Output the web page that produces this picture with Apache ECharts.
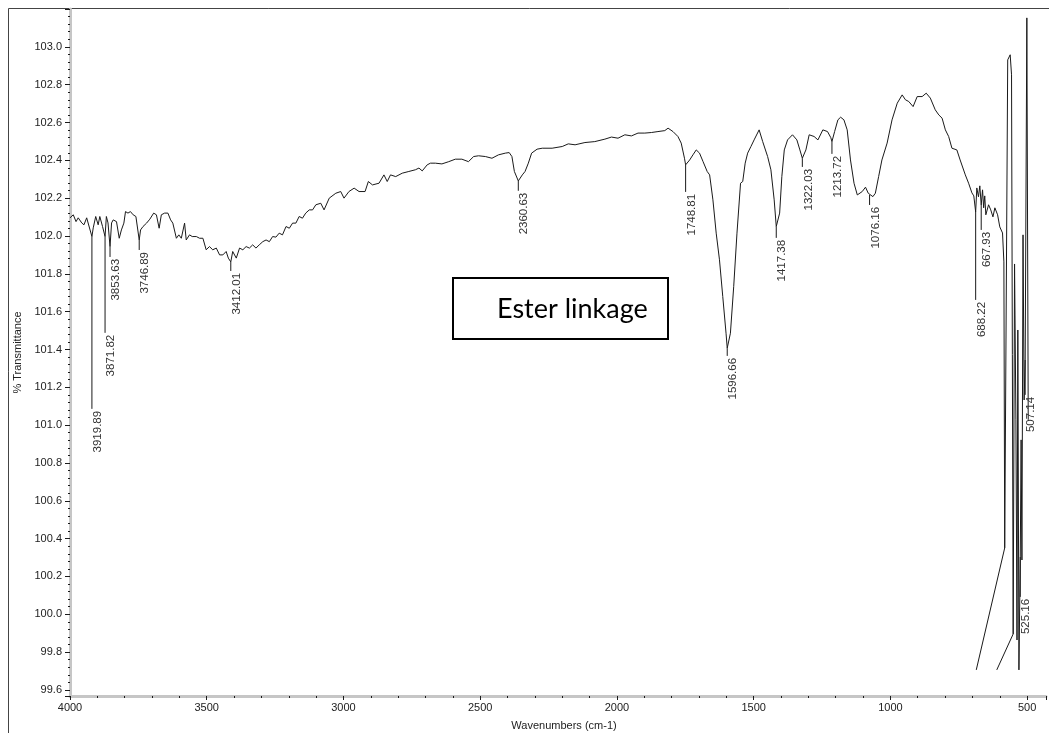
<!DOCTYPE html>
<html>
<head>
<meta charset="utf-8">
<title>FTIR spectrum</title>
<script src="https://cdn.jsdelivr.net/npm/echarts@6/dist/echarts.min.js"></script>
<style>
  html, body { margin: 0; padding: 0; background: #ffffff; }
  #chart { width: 1049px; height: 733px; }
</style>
</head>
<body>
<div id="chart"></div>
<script>
// IR spectrum: [wavenumber (cm-1), % transmittance]
const spectrum = [
  [4000,102.096],[3988,102.112],[3978,102.076],[3970,102.096],[3957,102.069],[3949,102.059],[3939,102.096],[3932,102.103],
  [3919.89,101.997],[3915,102.043],[3906,102.103],[3897,102.059],[3891,102.103],[3881,102.050],[3871.82,101.997],[3867,102.103],
  [3861,102.069],[3853.63,101.944],[3848,102.069],[3842,102.085],[3830,102.076],[3820,101.988],[3812,102.032],[3803,102.068],
  [3797,102.129],[3788,102.121],[3779,102.129],[3769,102.112],[3759,102.103],[3746.89,101.979],[3742,102.032],[3733,102.050],
  [3720,102.068],[3708,102.089],[3694,102.121],[3684,102.112],[3674,102.041],[3666,102.112],[3654,102.121],[3642,102.121],
  [3632,102.085],[3624,102.068],[3611,101.988],[3602,102.006],[3593,101.988],[3581,102.068],[3575,101.979],[3563,102.006],
  [3553,101.997],[3538,101.997],[3526,101.988],[3514,101.988],[3502,101.927],[3490,101.944],[3478,101.927],[3465,101.936],
  [3453,101.900],[3441,101.900],[3429,101.918],[3421,101.883],[3412.01,101.863],[3405,101.918],[3392,101.883],[3380,101.936],
  [3368,101.927],[3356,101.944],[3344,101.936],[3332,101.953],[3320,101.936],[3308,101.953],[3295,101.970],[3283,101.979],
  [3271,101.970],[3259,101.997],[3247,101.994],[3235,102.015],[3223,102.006],[3210,102.050],[3198,102.041],[3186,102.068],
  [3174,102.068],[3162,102.103],[3150,102.094],[3138,102.121],[3125,102.138],[3113,102.138],[3101,102.165],[3083,102.173],
  [3071,102.138],[3052,102.200],[3028,102.226],[3010,102.235],[2998,102.200],[2980,102.235],[2961,102.253],[2943,102.235],
  [2921,102.235],[2909,102.288],[2894,102.270],[2870,102.279],[2852,102.323],[2840,102.288],[2828,102.323],[2809,102.314],
  [2785,102.332],[2761,102.341],[2737,102.350],[2724,102.359],[2712,102.344],[2694,102.376],[2682,102.385],[2664,102.385],
  [2640,102.381],[2615,102.393],[2591,102.406],[2567,102.406],[2543,102.393],[2524,102.420],[2506,102.424],[2481,102.420],
  [2457,102.411],[2433,102.429],[2408,102.438],[2394,102.441],[2384,102.420],[2375,102.341],[2360.63,102.291],[2346,102.323],
  [2336,102.341],[2324,102.385],[2312,102.438],[2292,102.459],[2273,102.464],[2237,102.464],[2200,102.473],[2178,102.487],
  [2153,102.482],[2117,102.494],[2081,102.499],[2044,102.512],[2020,102.523],[1996,102.517],[1971,102.535],[1947,102.529],
  [1923,102.544],[1898,102.544],[1874,102.547],[1850,102.552],[1825,102.557],[1813,102.570],[1795,102.552],[1777,102.526],
  [1765,102.491],[1753,102.411],[1748.81,102.376],[1734,102.402],[1722,102.429],[1710,102.455],[1698,102.438],[1685,102.393],
  [1670,102.341],[1661,102.323],[1649,102.191],[1637,102.015],[1625,101.874],[1613,101.680],[1601,101.486],[1596.66,101.407],
  [1585,101.486],[1573,101.732],[1561,102.015],[1548,102.279],[1540,102.288],[1531,102.385],[1522,102.438],[1510,102.473],
  [1497,102.512],[1480,102.561],[1467,102.499],[1449,102.420],[1437,102.350],[1425,102.191],[1417.38,102.050],[1405,102.121],
  [1397,102.314],[1388,102.455],[1376,102.508],[1358,102.535],[1342,102.508],[1331,102.455],[1322.03,102.411],[1309,102.455],
  [1297,102.535],[1279,102.526],[1265,102.508],[1247,102.561],[1230,102.552],[1218,102.520],[1213.72,102.499],[1204,102.552],
  [1192,102.614],[1182,102.628],[1170,102.614],[1158,102.561],[1146,102.402],[1133,102.279],[1121,102.217],[1103,102.235],
  [1091,102.258],[1081,102.226],[1076.16,102.217],[1064,102.208],[1055,102.226],[1043,102.314],[1031,102.402],[1012,102.491],
  [994,102.614],[975,102.702],[957,102.746],[945,102.720],[933,102.711],[917,102.684],[902,102.737],[884,102.737],
  [869,102.755],[854,102.729],[836,102.667],[823,102.640],[811,102.623],[799,102.561],[787,102.526],[775,102.464],
  [757,102.455],[745,102.402],[726,102.323],[714,102.279],[702,102.228],[695,102.212],[688.22,102.127],[684,102.254],
  [678,102.207],[673,102.265],[667.93,102.164],[663,102.244],[659,102.149],[655,102.212],[651,102.112],[641,102.165],
  [633,102.138],[625,102.101],[618,102.149],[608,102.112],[600,102.048],[590,102.016],[585,101.863],[582,100.351],
  [571,102.931],[562,102.958],[557,102.852],[551,99.896],[546,101.852],[541,101.028],[537,99.864],[534,101.503],
  [530,99.706],[525.16,100.303],[522,100.922],[519,100.287],[515,102.006],[511,101.133],[507.14,101.345],[501,103.153],
  [499,103.143],[496,101.028]
];

// Off-scale segments in the saturated low-wavenumber region
const clippedSegmentA = [[582,100.351],[686,99.706]];
const clippedSegmentB = [[551,99.896],[611,99.706]];

// Peak picks: wavenumber, top of the marker line, bottom of the marker line
const peakWavenumbers = [3919.89,3871.82,3853.63,3746.89,3412.01,2360.63,1748.81,1596.66,1417.38,1322.03,1213.72,1076.16,688.22,667.93,525.16,507.14];
const peakTop =         [101.997,101.997,101.944,101.979,101.863,102.291,102.376,101.407,102.050,102.411,102.499,102.217,102.127,102.164,100.303,101.345];
const peakLineEnd =     [101.086,101.488,101.889,101.926,101.815,102.239,102.233,101.366,101.990,102.365,102.434,102.164,101.662,102.032,100.092,101.160];

const xAxisTitle = 'Wavenumbers (cm-1)';
const yAxisTitle = '% Transmittance';
const calloutText = 'Ester linkage';

const peaks = peakWavenumbers.map((w, i) => [w, peakTop[i], peakLineEnd[i]]);

const labelFont = '"Liberation Sans", Arial, sans-serif';
const axisGray = '#c6c6c6';
const ink = '#1a1a1a';

// show a tick label only on round multiples of the step
const onStep = (v, step) => Math.abs(v / step - Math.round(v / step)) < 1e-6;

const chart = echarts.init(document.getElementById('chart'), null, { renderer: 'canvas' });

chart.setOption({
  animation: false,
  backgroundColor: '#ffffff',
  grid: { left: 70, top: 9, right: 0, bottom: 37 },
  xAxis: {
    type: 'value',
    inverse: true,
    min: 431,
    max: 4000,
    splitNumber: 7,
    axisLine: { show: true, onZero: false, lineStyle: { color: axisGray, width: 3 } },
    axisTick: { show: true, length: 4, lineStyle: { color: ink, width: 1 } },
    minorTick: { show: true, splitNumber: 5, length: 2, lineStyle: { color: ink, width: 1 } },
    splitLine: { show: false },
    axisLabel: { color: '#222', fontSize: 11, fontFamily: labelFont, margin: 6,
                 formatter: v => onStep(v, 500) ? String(v) : '' }
  },
  yAxis: {
    type: 'value',
    min: 99.568,
    max: 103.2,
    splitNumber: 18,
    name: yAxisTitle,
    nameLocation: 'middle',
    nameGap: 46,
    nameTextStyle: { color: '#222', fontSize: 11, fontFamily: labelFont },
    axisLine: { show: true, onZero: false, lineStyle: { color: axisGray, width: 3 } },
    axisTick: { show: true, length: 5, lineStyle: { color: ink, width: 1 } },
    minorTick: { show: true, splitNumber: 5, length: 2, lineStyle: { color: ink, width: 1 } },
    splitLine: { show: false },
    axisLabel: {
      color: '#222', fontSize: 11, fontFamily: labelFont, margin: 8,
      formatter: v => (onStep(v, 0.2) && v < 103.1) ? v.toFixed(1) : ''
    }
  },
  series: [
    {
      type: 'line',
      data: spectrum,
      showSymbol: false,
      symbol: 'none',
      lineStyle: { color: ink, width: 1 },
      z: 3
    },
    {
      type: 'line',
      data: clippedSegmentA,
      showSymbol: false,
      symbol: 'none',
      lineStyle: { color: ink, width: 1 },
      z: 3
    },
    {
      type: 'line',
      data: clippedSegmentB,
      showSymbol: false,
      symbol: 'none',
      lineStyle: { color: ink, width: 1 },
      z: 3
    },
    {
      // peak marker lines with rotated wavenumber labels
      type: 'custom',
      data: peaks,
      encode: { x: 0, y: 1 },
      z: 4,
      renderItem: function (params, api) {
        const w = api.value(0);
        const top = api.coord([w, api.value(1)]);
        const end = api.coord([w, api.value(2)]);
        return {
          type: 'group',
          children: [
            {
              type: 'line',
              shape: { x1: top[0], y1: top[1], x2: end[0], y2: end[1] },
              style: { stroke: ink, lineWidth: 1 }
            },
            {
              type: 'text',
              x: end[0] + 6,
              y: end[1] + 2,
              rotation: Math.PI / 2,
              style: {
                text: w.toFixed(2),
                fill: '#333',
                font: '11.5px ' + labelFont,
                align: 'right',
                verticalAlign: 'middle'
              }
            }
          ]
        };
      }
    }
  ],
  graphic: [
    {
      type: 'rect',
      silent: true,
      z: -10,
      shape: { x: 8.5, y: 8.5, width: 1200, height: 900 },
      style: { fill: 'none', stroke: '#444', lineWidth: 1 }
    },
    {
      type: 'rect',
      z: 10,
      shape: { x: 453, y: 278, width: 215, height: 61 },
      style: { fill: '#ffffff', stroke: '#000000', lineWidth: 2 }
    },
    {
      type: 'text',
      z: 11,
      x: 497,
      y: 309,
      style: { text: calloutText, fill: '#000000', font: '27px Lato, "Open Sans", sans-serif', verticalAlign: 'middle' }
    },
    {
      type: 'text',
      z: 11,
      x: 564,
      y: 726,
      style: { text: xAxisTitle, fill: '#222', font: '11px ' + labelFont, align: 'center', verticalAlign: 'middle' }
    }
  ]
});
</script>
</body>
</html>
